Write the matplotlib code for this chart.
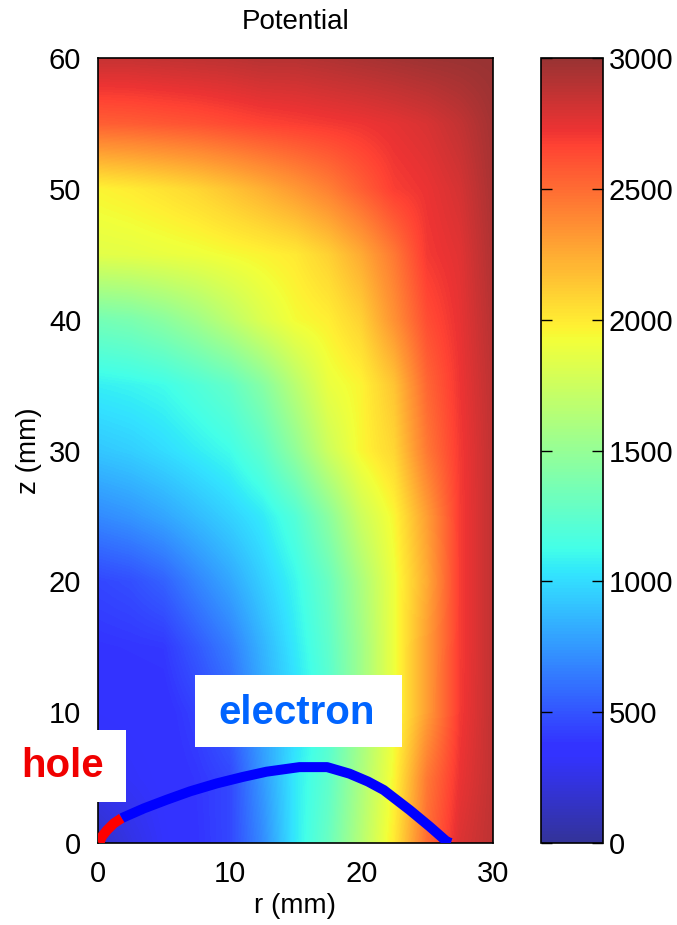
import numpy as np
import matplotlib
matplotlib.use("Agg")
import matplotlib.pyplot as plt
from matplotlib.colors import ListedColormap
from matplotlib.patches import Rectangle

# ---------------- data ----------------
r_mm = [0, 2.5, 5, 7.5, 10, 12.5, 15, 17.5, 20, 22.5, 25, 27.5, 30]
z_mm = [0, 5, 10, 15, 20, 25, 30, 35, 40, 45, 50, 55, 60]

# potential (V) on the (z, r) grid, rows = z from 0 to 60
pot_z0  = [150, 250, 330, 380, 450, 700, 1050, 1300, 1650, 2000, 2500, 2780, 2880]
pot_z5  = [300, 320, 350, 390, 450, 750, 1050, 1250, 1600, 1950, 2450, 2730, 2870]
pot_z10 = [340, 350, 360, 430, 550, 800, 1000, 1200, 1550, 1900, 2300, 2700, 2870]
pot_z15 = [380, 390, 400, 520, 650, 850, 1050, 1250, 1550, 1900, 2300, 2690, 2870]
pot_z20 = [450, 480, 550, 680, 800, 950, 1100, 1300, 1600, 1900, 2250, 2690, 2870]
pot_z25 = [700, 740, 800, 880, 960, 1050, 1200, 1450, 1750, 1950, 2300, 2690, 2870]
pot_z30 = [920, 950, 1000, 1060, 1120, 1250, 1480, 1750, 1950, 2080, 2450, 2700, 2870]
pot_z35 = [1070, 1090, 1120, 1190, 1270, 1430, 1660, 1880, 1960, 2150, 2520, 2720, 2880]
pot_z40 = [1350, 1380, 1450, 1550, 1680, 1820, 1930, 1980, 2100, 2350, 2620, 2740, 2900]
pot_z45 = [1850, 1860, 1880, 1900, 1930, 1960, 2000, 2100, 2250, 2450, 2700, 2760, 2920]
pot_z50 = [1960, 1990, 2030, 2080, 2150, 2230, 2320, 2420, 2550, 2680, 2730, 2800, 2940]
pot_z55 = [2550, 2560, 2580, 2600, 2630, 2660, 2680, 2700, 2720, 2750, 2790, 2860, 2960]
pot_z60 = [2850, 2850, 2860, 2870, 2880, 2900, 2900, 2920, 2940, 2960, 2980, 2990, 3000]

electron_r = [1.8, 3.5, 5.2, 7.0, 9.0, 11.0, 12.8, 15.3, 17.4, 19.1, 20.5, 21.7, 23.7, 25.2, 26.5, 26.8]
electron_z = [1.9, 2.65, 3.3, 3.95, 4.55, 5.05, 5.45, 5.8, 5.8, 5.3, 4.7, 4.05, 2.5, 1.25, 0.1, 0.0]
hole_r = [0.1, 0.3, 0.7, 1.2, 1.8]
hole_z = [0.0, 0.5, 1.0, 1.5, 1.9]

cbar_ticks = [0, 500, 1000, 1500, 2000, 2500, 3000]
x_ticks = [0, 10, 20, 30]
y_ticks = [0, 10, 20, 30, 40, 50, 60]

# ---------------- style ----------------
W, H = 677, 925
plt.rcParams['font.family'] = ['Liberation Sans', 'DejaVu Sans']

jet = plt.get_cmap('jet')(np.linspace(0, 1, 256))
jet[:, :3] = 0.8 * jet[:, :3] + 0.2
cmap = ListedColormap(jet)

V = np.array([pot_z0, pot_z5, pot_z10, pot_z15, pot_z20, pot_z25, pot_z30,
              pot_z35, pot_z40, pot_z45, pot_z50, pot_z55, pot_z60], dtype=float)
r = np.array(r_mm)
z = np.array(z_mm)
dr = r[1] - r[0]
dz = z[1] - z[0]

fig = plt.figure(figsize=(W / 100, H / 100), dpi=100)
ax = fig.add_axes([98 / W, 1 - 843 / H, 395 / W, 785 / H])
cax = fig.add_axes([541 / W, 1 - 843 / H, 62 / W, 785 / H])

im = ax.imshow(V, origin='lower', cmap=cmap, vmin=0, vmax=3000,
               extent=[r[0] - dr / 2, r[-1] + dr / 2, z[0] - dz / 2, z[-1] + dz / 2],
               interpolation='bilinear', aspect='auto')
ax.set_xlim(0, 30)
ax.set_ylim(0, 60)

ax.plot(electron_r, electron_z, color='#0000ff', lw=7.2, solid_capstyle='butt', zorder=3)
ax.plot(hole_r, hole_z, color='#ff0000', lw=7.2, solid_capstyle='butt', zorder=4)

ax.set_xticks(x_ticks)
ax.set_yticks(y_ticks)
ax.tick_params(direction='in', length=0, labelsize=21, pad=12)
for s in ax.spines.values():
    s.set_linewidth(1.2)

ax.set_title('Potential', fontsize=20, pad=21)
ax.set_xlabel('r (mm)', fontsize=20, labelpad=4)
ax.set_ylabel('z (mm)', fontsize=20, labelpad=5)

cb = fig.colorbar(im, cax=cax, ticks=cbar_ticks)
cax.tick_params(direction='in', length=8, width=1, left=True, right=True,
                labelsize=21, pad=4)
cb.outline.set_linewidth(1.2)

# annotation boxes (figure pixel coordinates)
def box(x0, y0, x1, y1):
    fig.add_artist(Rectangle((x0 / W, 1 - y1 / H), (x1 - x0) / W, (y1 - y0) / H,
                             transform=fig.transFigure, facecolor='white',
                             edgecolor='none', zorder=5))

box(195, 675, 402, 747)
fig.text(297 / W, 1 - 713 / H, 'electron', color='#0064ff', fontsize=29,
         fontweight='bold', ha='center', va='center', zorder=6)
box(0, 730, 126, 802)
fig.text(63 / W, 1 - 766 / H, 'hole', color='#f00000', fontsize=29,
         fontweight='bold', ha='center', va='center', zorder=6)

fig.savefig('out.png', dpi=100)
